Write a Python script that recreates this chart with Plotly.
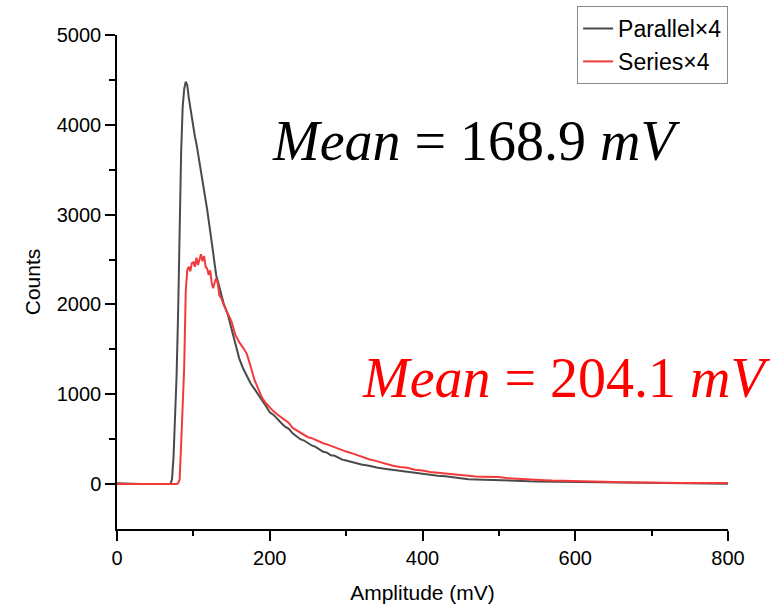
import plotly.graph_objects as go

amplitude_mv = [0, 10, 20, 30, 40, 50, 60, 70,
                72, 74, 76, 78, 80, 82, 84, 86, 88, 90, 92, 94, 96, 98, 100, 102, 104, 106, 108, 110,
                112, 114, 116, 118, 120, 122, 124, 126, 128, 130, 132, 134, 136, 138, 140,
                145, 150, 155, 160, 165, 170, 175, 180, 185, 190, 195, 200, 205, 210, 215, 220, 225,
                230, 235, 240, 245, 250, 255, 260, 265, 270, 275, 280, 285, 290, 295, 300,
                310, 320, 330, 340, 350, 360, 370, 380, 390, 400, 410, 420, 430, 440, 450, 460, 470,
                480, 490, 500, 510, 520, 530, 540, 550, 560, 570, 580, 590, 600, 610, 620, 630, 640,
                650, 660, 670, 680, 690, 700, 710, 720, 730, 740, 750, 760, 770, 780, 790, 800]

parallel_counts = [10, 5, 0, 0, 0, 0, 0, 0,
                   50, 300, 750, 1200, 1900, 2900, 3700, 4200, 4400, 4480, 4440, 4300, 4180, 4060, 3960, 3870, 3790, 3690, 3600, 3500,
                   3390, 3280, 3170, 3060, 2940, 2830, 2700, 2570, 2440, 2320, 2260, 2190, 2120, 2070, 2000,
                   1890, 1730, 1540, 1400, 1290, 1200, 1120, 1060, 990, 930, 870, 800, 770, 720, 680, 640, 615,
                   565, 530, 500, 485, 455, 430, 415, 390, 360, 350, 320, 315, 290, 272, 262,
                   238, 218, 205, 184, 172, 160, 150, 135, 127, 116, 104, 94, 88, 76, 64, 55, 52,
                   48, 47, 40, 42, 36, 35, 31, 30, 29, 26, 25, 22, 23, 19, 19, 17, 16,
                   16, 13, 13, 11, 11, 9, 10, 8, 8, 7, 7, 5, 6, 4, 5, 4]

series_counts = [0, 0, 0, 0, 0, 0, 0, 0,
                 0, 0, 0, 0, 10, 50, 450, 850, 1300, 2150, 2380, 2420, 2370, 2460, 2470, 2420, 2520, 2440, 2500, 2560,
                 2480, 2540, 2420, 2400, 2330, 2380, 2240, 2180, 2250, 2290, 2230, 2100, 2080, 2030, 1990,
                 1900, 1810, 1660, 1580, 1520, 1450, 1310, 1160, 1060, 960, 900, 850, 810, 775, 745, 720, 680,
                 625, 600, 575, 555, 522, 512, 490, 474, 455, 442, 425, 412, 394, 378, 362,
                 336, 304, 276, 256, 230, 208, 190, 181, 160, 152, 135, 127, 114, 107, 96, 93, 85,
                 82, 80, 78, 67, 61, 54, 51, 45, 43, 39, 36, 32, 31, 28, 27, 25, 24,
                 22, 21, 19, 18, 17, 16, 15, 14, 13, 13, 12, 12, 11, 11, 11, 11]

series_names = ["Parallel×4", "Series×4"]
mean_labels = ["168.9", "204.1"]

fig = go.Figure()
fig.add_trace(go.Scatter(x=amplitude_mv, y=parallel_counts, mode="lines", name=series_names[0],
                         line=dict(color="#4a4a4a", width=2)))
fig.add_trace(go.Scatter(x=amplitude_mv, y=series_counts, mode="lines", name=series_names[1],
                         line=dict(color="#f23a3a", width=2)))

sans = "Liberation Sans, Arial, sans-serif"
axis_font = dict(family=sans, size=20, color="#000")

fig.update_layout(
    width=782, height=607,
    margin=dict(l=117, r=54, t=35, b=78, autoexpand=False),
    plot_bgcolor="white", paper_bgcolor="white",
    font=axis_font,
    showlegend=True,
    legend=dict(x=0.753, y=1.0586, xanchor="left", yanchor="top",
                bordercolor="#8a8a8a", borderwidth=1, bgcolor="white",
                font=dict(family=sans, size=23, color="#000"),
                tracegroupgap=0, itemwidth=30),
    xaxis=dict(range=[0, 800], tickvals=[0, 200, 400, 600, 800], showgrid=False, zeroline=False,
               showline=True, linecolor="#000", linewidth=1.5, ticks="outside", ticklen=10,
               tickwidth=1.5, tickcolor="#000", tickfont=dict(size=20),
               minor=dict(tickvals=[100, 300, 500, 700], ticks="outside", ticklen=5, tickwidth=1.5, tickcolor="#000"),
               title=dict(text="Amplitude (mV)", font=dict(size=21), standoff=18)),
    yaxis=dict(range=[-500, 5000], tickvals=[0, 1000, 2000, 3000, 4000, 5000], showgrid=False, zeroline=False,
               showline=True, linecolor="#000", linewidth=1.5, ticks="outside", ticklen=10,
               tickwidth=1.5, tickcolor="#000", tickfont=dict(size=20),
               minor=dict(tickvals=[500, 1500, 2500, 3500, 4500], ticks="outside", ticklen=6, tickwidth=1.5, tickcolor="#000"),
               title=dict(text="Counts", font=dict(size=21), standoff=10)),
)

fig.add_annotation(xref="paper", yref="paper", x=0.588, y=0.786, xanchor="center", yanchor="middle",
                   showarrow=False,
                   text="<i>Mean</i> = " + mean_labels[0] + " <i>mV</i>",
                   font=dict(family="Liberation Serif, DejaVu Serif, serif", size=56, color="#000"))
fig.add_annotation(xref="paper", yref="paper", x=0.736, y=0.305, xanchor="center", yanchor="middle",
                   showarrow=False,
                   text="<i>Mean</i> = " + mean_labels[1] + " <i>mV</i>",
                   font=dict(family="Liberation Serif, DejaVu Serif, serif", size=56, color="#ff0000"))

fig.write_html("out.html")
